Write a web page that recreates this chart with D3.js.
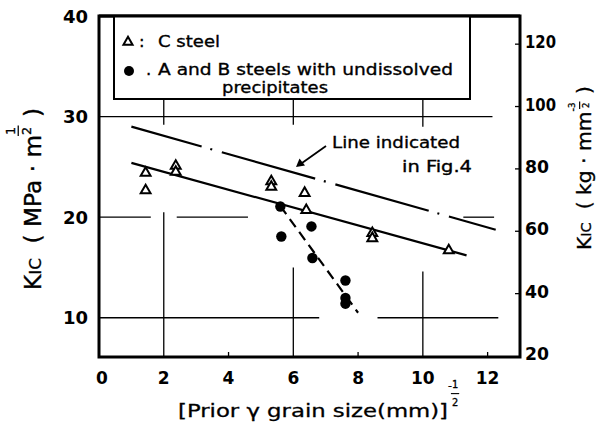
<!DOCTYPE html>
<html>
<head>
<meta charset="utf-8">
<script src="https://cdn.jsdelivr.net/npm/d3@7"></script>
<style>
  body { margin: 0; background: #fff; }
  svg { display: block; font-family: "DejaVu Sans", sans-serif; }
</style>
</head>
<body>
<script>
// tick values
const xTicks = [0, 2, 4, 6, 8, 10, 12];
const xMinorTicks = [4, 8, 12];
const yTicksLeft = [10, 20, 30, 40];
const yTicksRight = [20, 40, 60, 80, 100, 120];   // kg·mm^-3/2
const kgToMPa = 0.31;

// C steel (open triangles)
const cSteelX = [1.44, 1.44, 2.37, 2.37, 5.32, 5.32, 6.35, 6.40, 8.44, 8.44, 10.8];
const cSteelY = [24.4, 22.65, 25.1, 24.5, 23.55, 23.0, 22.4, 20.7, 18.4, 17.9, 16.7];

// A and B steels (filled circles)
const abSteelX = [5.60, 5.63, 6.56, 6.59, 7.61, 7.61, 7.61];
const abSteelY = [21.06, 18.08, 19.08, 15.94, 13.71, 11.97, 11.4];

// fitted lines
const solidLine = [[1.0, 25.4], [11.35, 16.2]];
const dashDotLine = [[1.0, 29.0], [12.25, 18.75]];
const dashedLine = [[5.6, 21.1], [8.0, 10.5]];

// broken grid segments (value, from, to)
const hGrid = [[30, 0, 12.15], [20, 0, 1.6], [20, 2.4, 4.6], [20, 11.25, 12.2], [10, 0, 6.8], [10, 8.6, 12.33]];
const vGrid = [[2, 6.1, 20.5], [6, 6.1, 15.0], [10, 6.1, 14.6], [2, 29.2, 31.76], [6, 29.2, 31.76], [10, 29.0, 31.76]];

const width = 606, height = 425;
const svg = d3.select("body").append("svg").attr("width", width).attr("height", height);

const x = d3.scaleLinear().domain([0, 13]).range([99, 520]);
const y = d3.scaleLinear().domain([6.1, 40]).range([357, 16]);

// grid
svg.append("g").selectAll("line").data(hGrid).enter().append("line")
  .attr("x1", d => x(d[1])).attr("x2", d => x(d[2]))
  .attr("y1", d => y(d[0])).attr("y2", d => y(d[0]))
  .attr("stroke", "#000").attr("stroke-width", 1.3);
svg.append("g").selectAll("line").data(vGrid).enter().append("line")
  .attr("x1", d => x(d[0])).attr("x2", d => x(d[0]))
  .attr("y1", d => y(d[1])).attr("y2", d => y(d[2]))
  .attr("stroke", "#000").attr("stroke-width", 1.3);

// minor ticks on bottom and inner ticks on right
svg.append("g").selectAll("line").data(xMinorTicks).enter().append("line")
  .attr("x1", d => x(d)).attr("x2", d => x(d))
  .attr("y1", y(6.1)).attr("y2", y(6.1) - 5)
  .attr("stroke", "#000").attr("stroke-width", 1.3);
svg.append("g").selectAll("line").data(yTicksRight.slice(1)).enter().append("line")
  .attr("x1", x(13)).attr("x2", x(13) - 5)
  .attr("y1", d => y(d * kgToMPa)).attr("y2", d => y(d * kgToMPa))
  .attr("stroke", "#000").attr("stroke-width", 1.3);

// frame
svg.append("rect")
  .attr("x", x(0)).attr("y", y(40))
  .attr("width", x(13) - x(0)).attr("height", y(6.1) - y(40))
  .attr("fill", "none").attr("stroke", "#000").attr("stroke-width", 3);

// tick labels
const digitW = d => String(d).length === 3 ? 31 : String(d).length * 12;
svg.append("g").selectAll("text").data(xTicks).enter().append("text")
  .attr("x", d => x(d) + (d === 0 ? 3 : 0)).attr("y", 384)
  .attr("text-anchor", "middle").attr("font-size", 17).attr("font-weight", "bold")
  .text(d => d);
svg.append("g").selectAll("text").data(yTicksLeft).enter().append("text")
  .attr("x", 88).attr("y", d => y(d) + 6.5)
  .attr("text-anchor", "end").attr("font-size", 18).attr("font-weight", "bold")
  .text(d => d);
svg.append("g").selectAll("text").data(yTicksRight).enter().append("text")
  .attr("x", 525).attr("y", d => y(d * kgToMPa) + 4)
  .attr("text-anchor", "start").attr("font-size", 18).attr("font-weight", "bold")
  .attr("textLength", digitW).attr("lengthAdjust", "spacingAndGlyphs")
  .text(d => d);

// lines
const line = d3.line().x(d => x(d[0])).y(d => y(d[1]));
svg.append("path").attr("d", line(solidLine))
  .attr("fill", "none").attr("stroke", "#000").attr("stroke-width", 2.2);
svg.append("path").attr("d", line(dashDotLine))
  .attr("fill", "none").attr("stroke", "#000").attr("stroke-width", 2.2)
  .attr("stroke-dasharray", "97 9 2 10").attr("stroke-dashoffset", 24);
svg.append("path").attr("d", line(dashedLine))
  .attr("fill", "none").attr("stroke", "#000").attr("stroke-width", 2.2)
  .attr("stroke-dasharray", "10 6");

// markers
const tri = d3.symbol().type(d3.symbolTriangle).size(42);
svg.append("g").selectAll("path").data(cSteelX).enter().append("path")
  .attr("d", tri)
  .attr("transform", (d, i) => `translate(${x(d)},${y(cSteelY[i])})`)
  .attr("fill", "#fff").attr("stroke", "#000").attr("stroke-width", 2);
svg.append("g").selectAll("circle").data(abSteelX).enter().append("circle")
  .attr("cx", d => x(d)).attr("cy", (d, i) => y(abSteelY[i]))
  .attr("r", 5.2).attr("fill", "#000");

// legend
svg.append("rect").attr("x", 114).attr("y", 16).attr("width", 356).attr("height", 83)
  .attr("fill", "#fff").attr("stroke", "#000").attr("stroke-width", 2);
svg.append("line").attr("x1", x(0)).attr("x2", x(13)).attr("y1", y(40)).attr("y2", y(40))
  .attr("stroke", "#000").attr("stroke-width", 3);
svg.append("path").attr("d", d3.symbol().type(d3.symbolTriangle).size(36))
  .attr("transform", "translate(128,42)")
  .attr("fill", "#fff").attr("stroke", "#000").attr("stroke-width", 2);
svg.append("circle").attr("cx", 129).attr("cy", 71).attr("r", 5).attr("fill", "#000");
const lg = svg.append("g").attr("font-size", 16.5).attr("stroke", "#000").attr("stroke-width", 0.35);
lg.append("text").attr("x", 139).attr("y", 47).text(":");
lg.append("text").attr("x", 158).attr("y", 47).attr("textLength", 62).attr("lengthAdjust", "spacingAndGlyphs").text("C steel");
lg.append("text").attr("x", 146).attr("y", 75).text(".");
lg.append("text").attr("x", 158).attr("y", 75).attr("textLength", 295).attr("lengthAdjust", "spacingAndGlyphs").text("A and B steels with undissolved");
lg.append("text").attr("x", 222).attr("y", 93).attr("font-size", 16).attr("textLength", 106).attr("lengthAdjust", "spacingAndGlyphs").text("precipitates");

// annotation
const an = svg.append("g").attr("font-size", 16).attr("stroke", "#000").attr("stroke-width", 0.35);
an.append("text").attr("x", 332).attr("y", 148).attr("textLength", 128).attr("lengthAdjust", "spacingAndGlyphs").text("Line indicated");
an.append("text").attr("x", 402).attr("y", 172).attr("textLength", 70).attr("lengthAdjust", "spacingAndGlyphs").text("in Fig.4");
svg.append("line").attr("x1", 326).attr("y1", 146).attr("x2", 302).attr("y2", 163)
  .attr("stroke", "#000").attr("stroke-width", 1.8);
svg.append("path").attr("d", "M296,167 L299.5,158.5 L305,165.5 Z").attr("fill", "#000");

// rich label helper: parts placed along baseline
function richLabel(g, parts, fs) {
  let cx = 0;
  parts.forEach(p => {
    if (p.frac) {
      const sf = fs * (p.fs || 0.55);
      const a = g.append("text").attr("x", cx).attr("y", p.nb * fs).attr("font-size", sf).text(p.frac[0]);
      const b = g.append("text").attr("x", cx).attr("y", p.db * fs).attr("font-size", sf).text(p.frac[1]);
      const w = Math.max(a.node().getComputedTextLength(), b.node().getComputedTextLength());
      g.append("line").attr("x1", cx - 1).attr("x2", cx + w + 1)
        .attr("y1", p.bar * fs).attr("y2", p.bar * fs).attr("stroke", "#000").attr("stroke-width", 1.1);
      cx += w + 2;
    } else {
      const t = g.append("text").attr("x", cx).attr("y", p.dy ? p.dy * fs : 0)
        .attr("font-size", fs * (p.s || 1)).text(p.t);
      if (p.len) t.attr("textLength", p.len).attr("lengthAdjust", "spacingAndGlyphs");
      cx += p.len || t.node().getComputedTextLength();
    }
  });
  return cx;
}

const nb = "\u00a0";

// left axis title
const lt = svg.append("g").attr("stroke", "#000").attr("stroke-width", 0.3);
const ltw = richLabel(lt, [
  { t: "K" }, { t: "IC", s: 0.72 }, { t: nb + nb + "(" + nb + "MPa" + nb + "·" + nb + "m" },
  { frac: ["1", "2"], nb: -1.12, bar: -0.98, db: -0.45 }, { t: nb + ")" }
], 20);
const lk = 182 / ltw;
lt.attr("transform", `translate(41,${199 + 91}) rotate(-90) scale(${lk})`);

// right axis title
const rt = svg.append("g").attr("stroke", "#000").attr("stroke-width", 0.3);
const rtw = richLabel(rt, [
  { t: "K" }, { t: "IC", s: 0.72 }, { t: nb + nb + "(" + nb + "kg" + nb + "·" + nb + "mm" }, { t: "-", s: 0.5, dy: -0.75 },
  { frac: ["3", "2"], fs: 0.42, nb: -0.8, bar: -0.56, db: -0.12 }, { t: nb + ")" }
], 19);
const rk = 164 / rtw;
rt.attr("transform", `translate(591,${250}) rotate(-90) scale(${rk})`);

// x axis title
const xt = svg.append("g").attr("stroke", "#000").attr("stroke-width", 0.3);
richLabel(xt, [
  { t: "[Prior" + nb + "γ" + nb + "grain" + nb + "size(mm)]", len: 270 }, { t: "-", s: 0.6, dy: -1.55 },
  { frac: ["1", "2"], nb: -1.6, bar: -1.3, db: -0.62 }
], 18);
xt.attr("transform", "translate(178,417)");
</script>
</body>
</html>
